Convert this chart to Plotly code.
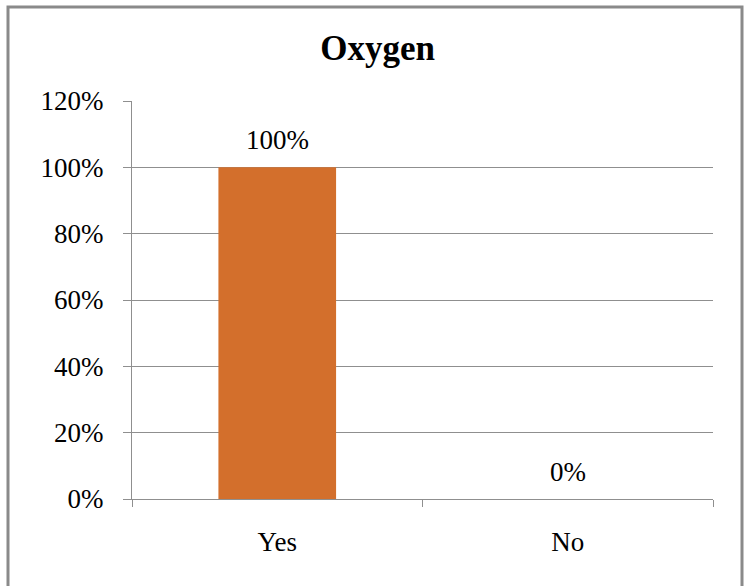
import plotly.graph_objects as go

categories = ["Yes", "No"]
values = [1.00, 0.00]
value_labels = ["100%", "0%"]
y_ticks = [0, 0.2, 0.4, 0.6, 0.8, 1.0, 1.2]
y_tick_labels = ["0%", "20%", "40%", "60%", "80%", "100%", "120%"]

FONT = "'Liberation Serif', 'Times New Roman', Times, serif"
GRID = "#8f8f8f"

fig = go.Figure()
fig.add_trace(go.Bar(
    x=categories, y=values,
    marker=dict(color="#D36F2C", line=dict(width=0)),
    width=0.405,
    showlegend=False,
    hoverinfo="skip",
))

for c, v, t in zip(categories, values, value_labels):
    fig.add_annotation(x=c, y=v, text=t, showarrow=False, xref="x", yref="y",
                       yanchor="bottom", yshift=10,
                       font=dict(family=FONT, size=27, color="black"))

fig.update_layout(
    width=745, height=586,
    margin=dict(l=132, r=32, t=101, b=87),
    paper_bgcolor="white", plot_bgcolor="white",
    font=dict(family=FONT),
    title=dict(text="<b>Oxygen</b>", x=0.507, xanchor="center", xref="container",
               y=0.918, yanchor="middle", yref="container",
               font=dict(family=FONT, size=35, color="black")),
    xaxis=dict(type="category", tickson="boundaries", ticks="outside", ticklen=7,
               tickcolor=GRID, showgrid=False, showline=True, linecolor=GRID, linewidth=1,
               tickfont=dict(family=FONT, size=27, color="black"),
               ticklabelstandoff=19),
    yaxis=dict(range=[0, 1.2], tickvals=y_ticks, ticktext=y_tick_labels,
               ticks="outside", ticklen=8, tickcolor=GRID,
               showgrid=True, gridcolor=GRID, gridwidth=1,
               showline=True, linecolor=GRID, linewidth=1, zeroline=False,
               tickfont=dict(family=FONT, size=27, color="black"),
               ticklabelstandoff=14),
    shapes=[dict(type="rect", xref="paper", yref="paper",
                 x0=(8 - 132) / 581, x1=(742 - 132) / 581,
                 y0=(499 - 600) / 398, y1=(499 - 7) / 398,
                 line=dict(color="#8a8a8a", width=3), fillcolor="rgba(0,0,0,0)",
                 layer="below")],
)

fig.write_html("out.html", config={"displayModeBar": False},
               post_script="document.body.style.margin='0';")
